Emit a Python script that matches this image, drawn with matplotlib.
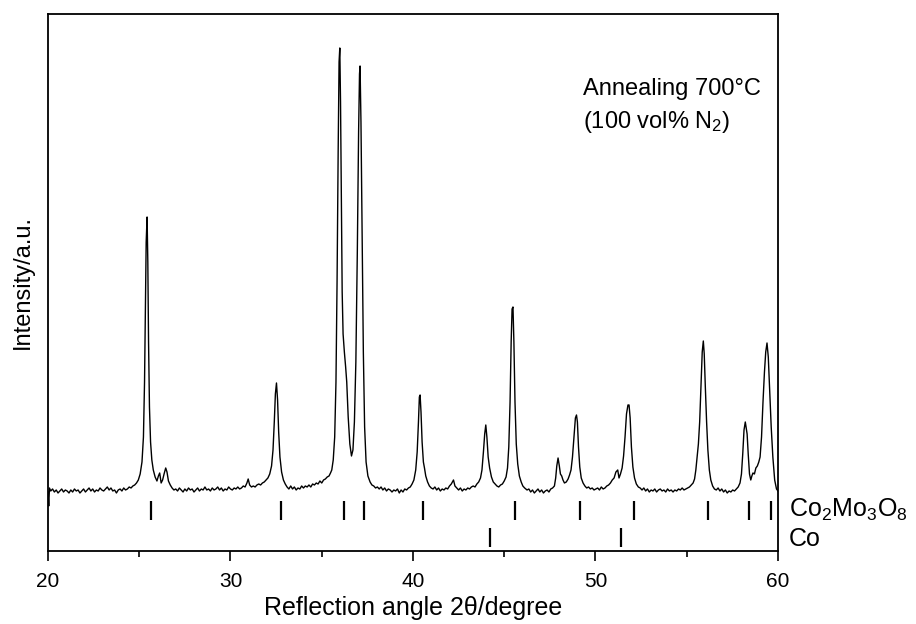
import numpy as np
import matplotlib
matplotlib.use('Agg')
import matplotlib.pyplot as plt

plt.rcParams['font.family'] = ['Liberation Sans', 'DejaVu Sans']
plt.rcParams['mathtext.fontset'] = 'custom'
plt.rcParams['mathtext.rm'] = 'Liberation Sans'
plt.rcParams['mathtext.default'] = 'regular'

# XRD trace (2theta in degree, intensity in a.u.)
two_theta = [
    20.00, 20.04, 20.08, 20.15, 20.25, 20.35, 20.45, 20.55, 20.65, 20.75, 20.85, 20.95,
    21.05, 21.15, 21.25, 21.35, 21.45, 21.55, 21.65, 21.75, 21.85, 21.95,
    22.05, 22.15, 22.25, 22.35, 22.45, 22.55, 22.65, 22.75, 22.85, 22.95,
    23.05, 23.15, 23.25, 23.35, 23.45, 23.55, 23.65, 23.75, 23.85, 23.95,
    24.05, 24.15, 24.25, 24.35, 24.45, 24.55, 24.65, 24.75, 24.85, 24.95,
    25.05, 25.15, 25.23, 25.29, 25.34, 25.38, 25.43, 25.47, 25.51, 25.56, 25.62, 25.69,
    25.77, 25.87, 25.97, 26.05, 26.12, 26.20, 26.28, 26.36, 26.45, 26.52, 26.60, 26.70,
    26.80, 26.90, 27.00, 27.10, 27.20, 27.30, 27.40, 27.50, 27.60, 27.70, 27.80, 27.90,
    28.00, 28.10, 28.20, 28.30, 28.40, 28.50, 28.60, 28.70, 28.80, 28.90,
    29.00, 29.10, 29.20, 29.30, 29.40, 29.50, 29.60, 29.70, 29.80, 29.90,
    30.00, 30.10, 30.20, 30.30, 30.40, 30.50, 30.60, 30.70, 30.80, 30.90, 30.97,
    31.05, 31.15, 31.25, 31.35, 31.45, 31.55, 31.65, 31.75, 31.85, 31.95,
    32.05, 32.15, 32.25, 32.33, 32.40, 32.46, 32.52, 32.58, 32.64, 32.71, 32.80, 32.90,
    33.00, 33.10, 33.20, 33.30, 33.40, 33.50, 33.60, 33.70, 33.80, 33.90,
    34.00, 34.10, 34.20, 34.30, 34.40, 34.50, 34.60, 34.70, 34.80, 34.90,
    35.00, 35.10, 35.20, 35.30, 35.40, 35.48, 35.55, 35.63, 35.71, 35.78, 35.84, 35.90, 35.95,
    35.99, 36.03, 36.08, 36.12, 36.17, 36.24, 36.31, 36.37, 36.45, 36.54, 36.63, 36.71,
    36.79, 36.87, 36.95, 37.02, 37.07, 37.10, 37.15, 37.21, 37.28, 37.35, 37.43, 37.53,
    37.65, 37.75, 37.85, 37.95, 38.05, 38.15, 38.25, 38.35, 38.45, 38.55, 38.65, 38.75,
    38.85, 38.95, 39.05, 39.15, 39.25, 39.35, 39.45, 39.55, 39.65, 39.75, 39.85, 39.95,
    40.05, 40.15, 40.23, 40.30, 40.35, 40.39, 40.44, 40.50, 40.57, 40.63, 40.70, 40.80, 40.90,
    41.00, 41.10, 41.20, 41.30, 41.40, 41.50, 41.60, 41.70, 41.80, 41.90,
    42.00, 42.10, 42.22, 42.30, 42.40, 42.50, 42.60, 42.70, 42.80, 42.90,
    43.00, 43.10, 43.20, 43.30, 43.40, 43.50, 43.60, 43.70, 43.78, 43.86, 43.93, 43.99,
    44.05, 44.12, 44.20, 44.30, 44.40, 44.50, 44.60, 44.70, 44.80, 44.90,
    45.00, 45.10, 45.18, 45.25, 45.32, 45.38, 45.43, 45.48, 45.53, 45.59, 45.66, 45.74,
    45.83, 45.93, 46.02, 46.12, 46.25, 46.35, 46.45, 46.55, 46.65, 46.75, 46.85, 46.95,
    47.05, 47.15, 47.25, 47.35, 47.45, 47.55, 47.65, 47.75, 47.82, 47.88, 47.95, 48.02,
    48.08, 48.15, 48.22, 48.30, 48.40, 48.50, 48.58, 48.66, 48.74, 48.82, 48.90, 48.96,
    49.01, 49.07, 49.14, 49.22, 49.32, 49.42, 49.52, 49.62, 49.72, 49.82, 49.92,
    50.02, 50.12, 50.22, 50.32, 50.42, 50.52, 50.62, 50.72, 50.82, 50.92,
    51.02, 51.12, 51.22, 51.29, 51.37, 51.46, 51.54, 51.62, 51.70, 51.78, 51.84, 51.90,
    51.97, 52.05, 52.14, 52.24, 52.35, 52.45, 52.55, 52.65, 52.75, 52.85, 52.95,
    53.05, 53.15, 53.25, 53.35, 53.45, 53.55, 53.65, 53.75, 53.85, 53.95,
    54.05, 54.15, 54.25, 54.35, 54.45, 54.55, 54.65, 54.75, 54.85, 54.95,
    55.05, 55.15, 55.25, 55.35, 55.43, 55.50, 55.57, 55.64, 55.71, 55.78, 55.85, 55.91,
    55.96, 56.02, 56.09, 56.16, 56.24, 56.32, 56.42, 56.52, 56.62, 56.72, 56.82, 56.92,
    57.02, 57.12, 57.22, 57.32, 57.42, 57.52, 57.62, 57.72, 57.82, 57.92, 58.00, 58.07,
    58.14, 58.21, 58.26, 58.31, 58.37, 58.44, 58.51, 58.57, 58.63, 58.71, 58.79, 58.87,
    58.95, 59.02, 59.10, 59.18, 59.26, 59.33, 59.40, 59.47, 59.55, 59.63, 59.72, 59.82,
    59.92, 60.00,
]
intensity = [
    0, -14, 4, 1, 3, 0, 2, -1, 1, 3, 0, 2,
    1, -1, 2, 0, 3, 1, 2, -1, 1, 3,
    0, 2, 4, 1, 3, 0, 2, 1, 4, 2,
    1, 3, 5, 2, 4, 1, 2, -1, 2, 3,
    1, 4, 2, 3, 5, 4, 6, 7, 9, 12,
    18, 30, 55, 110, 190, 250, 275, 230, 150, 85, 50, 32,
    22, 15, 11, 16, 19, 9, 12, 18, 24, 20, 11, 7,
    4, 2, 3, 1, 4, 2, 0, 3, 1, 4, 2, 3,
    0, 2, 4, 1, 3, 2, 5, 2, 3, 1,
    4, 2, 3, 5, 2, 4, 1, 3, 2, 5,
    3, 2, 4, 3, 5, 3, 4, 6, 5, 9, 13,
    7, 5, 6, 5, 7, 8, 7, 9, 10, 12,
    14, 18, 26, 42, 70, 98, 109, 92, 60, 35, 20, 12,
    8, 5, 3, 6, 3, 5, 2, 4, 3, 6,
    4, 6, 5, 7, 5, 8, 7, 9, 8, 11,
    9, 12, 13, 15, 16, 19, 22, 32, 55, 110, 210, 340, 430,
    444, 390, 290, 200, 158, 140, 125, 110, 75, 48, 36, 42,
    70, 130, 240, 360, 418, 426, 370, 260, 140, 65, 30, 16,
    10, 7, 6, 4, 5, 3, 5, 2, 4, 1, 3, 2,
    0, 2, 1, 3, -1, 2, 0, 3, 2, 4, 5, 8,
    12, 22, 40, 70, 95, 97, 80, 50, 30, 24, 16, 10, 6,
    4, 3, 5, 2, 4, 1, 3, 2, 4, 3,
    6, 8, 12, 6, 4, 2, 4, 1, 3, 2,
    4, 3, 5, 6, 5, 8, 10, 14, 22, 40, 58, 67,
    55, 35, 24, 15, 10, 8, 6, 5, 7, 8,
    11, 15, 24, 45, 90, 150, 183, 185, 150, 90, 48, 28,
    16, 10, 6, 4, 2, 3, 0, 2, -1, 1, 3, 0,
    2, -1, 1, 2, 0, 3, 4, 6, 14, 26, 34, 26,
    18, 16, 12, 9, 10, 13, 17, 22, 35, 55, 74, 77,
    70, 45, 25, 14, 9, 6, 4, 5, 3, 4, 2,
    3, 4, 2, 5, 3, 4, 6, 7, 9, 12,
    14, 20, 22, 14, 18, 24, 36, 55, 78, 87, 87, 74,
    45, 25, 14, 8, 5, 4, 2, 4, 1, 3, 0,
    2, 1, 3, 0, 2, 3, 1, 2, 0, 3,
    1, 2, 0, 2, 1, 3, 2, 4, 2, 3,
    4, 5, 7, 9, 13, 22, 35, 48, 70, 105, 140, 151,
    138, 105, 70, 42, 22, 12, 6, 3, 2, 4, 1, 3,
    0, 2, -1, 1, 0, 2, 1, 3, 5, 9, 18, 38,
    62, 70, 64, 58, 38, 18, 12, 16, 19, 18, 24, 26,
    30, 35, 55, 90, 120, 140, 149, 135, 100, 65, 35, 12,
    3, 1,
]

# reference reflections
co2mo3o8_pos = [25.65, 32.75, 36.2, 37.3, 40.55, 45.6, 49.15, 52.1, 56.15, 58.4, 59.6]
co_pos = [44.2, 51.4]
phase_labels = ['Co$_2$Mo$_3$O$_8$', 'Co']

fig = plt.figure(figsize=(9.16, 6.24), dpi=100)
ax = fig.add_axes([0.0524, 0.117, 0.7969, 0.8606])

ax.plot(two_theta, intensity, color='black', lw=1.0)
ax.vlines(co2mo3o8_pos, -28, -9, color='black', lw=1.6)
ax.vlines(co_pos, -55, -36, color='black', lw=1.6)

ax.set_xlim(20, 60)
ax.set_ylim(-59, 478)
ax.set_xticks([20, 30, 40, 50, 60])
ax.set_xticks([25, 35, 45, 55], minor=True)
ax.tick_params(axis='x', which='major', direction='out', length=7, width=1.2, labelsize=15, pad=8)
ax.tick_params(axis='x', which='minor', direction='out', length=4, width=1.2)
ax.set_yticks([])
for s in ax.spines.values():
    s.set_linewidth(1.3)

ax.set_xlabel('Reflection angle 2θ/degree', fontsize=18, labelpad=4)
ax.set_ylabel('Intensity/a.u.', fontsize=17, labelpad=10)

ax.text(49.3, 414, 'Annealing 700°C\n(100 vol% N$_2$)', fontsize=17, va='top', ha='left',
        linespacing=1.45)
ax.text(60.6, -25, phase_labels[0], fontsize=18, va='baseline', ha='left', clip_on=False)
ax.text(60.6, -54, phase_labels[1], fontsize=18, va='baseline', ha='left', clip_on=False)

fig.savefig('out.png', dpi=100)
